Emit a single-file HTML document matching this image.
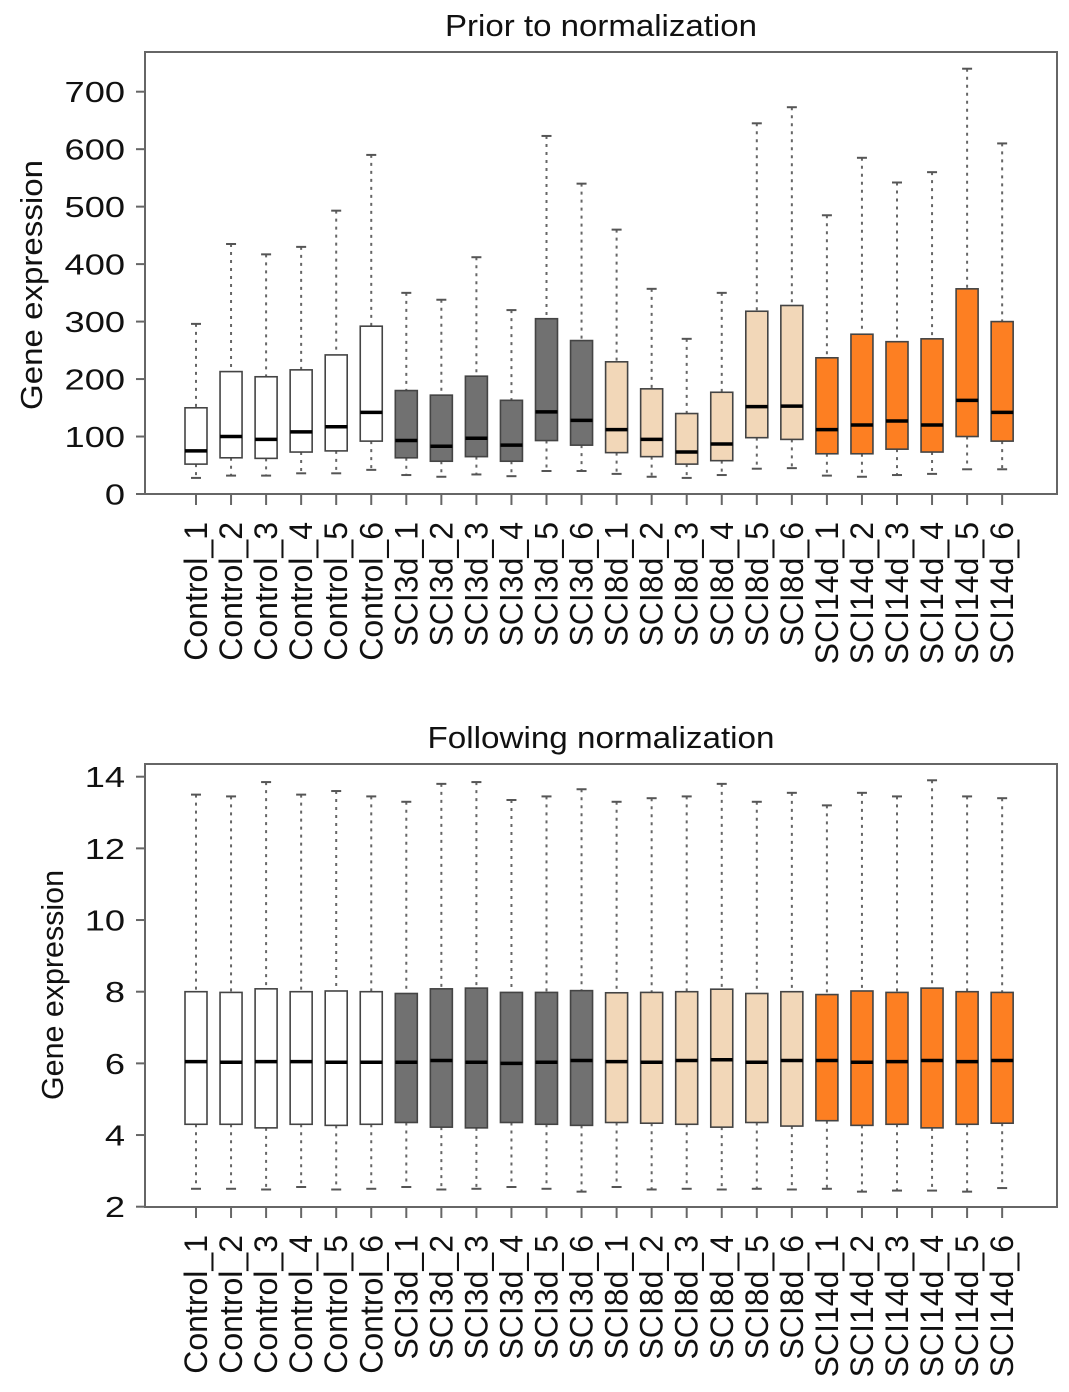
<!DOCTYPE html>
<html><head><meta charset="utf-8"><style>
html,body{margin:0;padding:0;background:#fff;}
svg{display:block;font-family:"Liberation Sans",Arial,sans-serif;}
</style></head><body>
<svg id="chart" width="1069" height="1392" viewBox="0 0 1069 1392" xmlns="http://www.w3.org/2000/svg"></svg>
<script>
const categories=["Control_1","Control_2","Control_3","Control_4","Control_5","Control_6","SCI3d_1","SCI3d_2","SCI3d_3","SCI3d_4","SCI3d_5","SCI3d_6","SCI8d_1","SCI8d_2","SCI8d_3","SCI8d_4","SCI8d_5","SCI8d_6","SCI14d_1","SCI14d_2","SCI14d_3","SCI14d_4","SCI14d_5","SCI14d_6"];
const groupColors=["#ffffff","#ffffff","#ffffff","#ffffff","#ffffff","#ffffff","#717171","#717171","#717171","#717171","#717171","#717171","#f2d7b8","#f2d7b8","#f2d7b8","#f2d7b8","#f2d7b8","#f2d7b8","#fd7f22","#fd7f22","#fd7f22","#fd7f22","#fd7f22","#fd7f22"];
const prevMin=[28,32,32,36,36,42,33,30,34,31,40,40,35,30,28,33,44,45,32,30,33,35,43,43];
const prevQ1=[52,63,62,73,75,92,63,57,65,57,93,85,72,65,52,58,98,95,70,70,78,73,100,92];
const prevMed=[75,100,95,108,117,142,93,83,97,85,143,128,112,95,73,87,152,153,112,120,127,120,163,142];
const prevQ3=[150,213,204,216,242,292,180,172,205,163,305,267,230,183,140,177,318,328,237,278,265,270,357,300];
const prevMax=[296,435,417,430,493,590,350,338,412,320,623,540,460,357,270,350,645,673,485,585,542,560,740,610];
const prevTicks=[0,100,200,300,400,500,600,700];
const postMin=[2.5,2.5,2.48,2.55,2.48,2.5,2.55,2.48,2.5,2.55,2.5,2.42,2.55,2.48,2.5,2.48,2.5,2.48,2.5,2.42,2.45,2.45,2.42,2.52];
const postQ1=[4.3,4.3,4.2,4.3,4.27,4.3,4.35,4.22,4.2,4.35,4.3,4.27,4.35,4.33,4.3,4.22,4.35,4.25,4.4,4.27,4.3,4.2,4.3,4.33];
const postMed=[6.05,6.03,6.05,6.05,6.03,6.03,6.03,6.08,6.03,6.0,6.03,6.08,6.05,6.03,6.08,6.1,6.03,6.08,6.08,6.03,6.05,6.08,6.05,6.08];
const postQ3=[8.0,7.98,8.08,8.0,8.02,8.0,7.95,8.08,8.1,7.98,7.98,8.03,7.97,7.98,8.0,8.07,7.95,8.0,7.92,8.02,7.98,8.1,8.0,7.98];
const postMax=[13.5,13.45,13.85,13.5,13.6,13.45,13.3,13.8,13.85,13.35,13.45,13.65,13.3,13.4,13.45,13.8,13.3,13.55,13.2,13.55,13.45,13.9,13.45,13.4];
const postTicks=[2,4,6,8,10,12,14];

const svg=document.getElementById('chart');
const NS='http://www.w3.org/2000/svg';
function mk(tag,attrs,parent){const e=document.createElementNS(NS,tag);for(const k in attrs)e.setAttribute(k,attrs[k]);(parent||svg).appendChild(e);return e;}

function panel(cfg){
  const g=mk('g',{});
  
  
  const L=145,R=1057,T=cfg.top,B=cfg.bottom;
  const y=v=>cfg.y0px+(v-cfg.v0)*(cfg.y1px-cfg.y0px)/(cfg.v1-cfg.v0);
  const x=i=>196+i*35.05;
  const fr=mk('rect',{x:L,y:T,width:R-L,height:B-T,fill:'none',stroke:'#666','stroke-width':2},g);
  
  
  const tt=mk('text',{x:601,y:T-16,'text-anchor':'middle','font-size':31,fill:'#111',textLength:cfg.titleLen,lengthAdjust:'spacingAndGlyphs'},g);
  tt.textContent=cfg.title;
  
  
  const yt=mk('text',{x:0,y:0,'text-anchor':'middle','font-size':31,fill:'#111',transform:`translate(${cfg.ytx},${cfg.yty}) rotate(-90)`,textLength:cfg.ytLen,lengthAdjust:'spacingAndGlyphs'},g);
  yt.textContent='Gene expression';
  
  
  cfg.ticks.forEach(t=>{
    const yy=y(t);
    const tl=mk('line',{x1:L-9,x2:L,y1:yy,y2:yy,stroke:'#666','stroke-width':2},g);
    
    
    const lb=mk('text',{x:0,y:0,'text-anchor':'end','font-size':29,fill:'#111',transform:`translate(${L-20},${yy+10.5}) scale(1.25,1)`},g);
    lb.textContent=String(t);
    
    
  });
  categories.forEach((c,i)=>{
    const cx=x(i);
    const tk=mk('line',{x1:cx,x2:cx,y1:B,y2:B+11,stroke:'#666','stroke-width':2},g);
    
    
    const lb=mk('text',{x:0,y:0,'text-anchor':'end','font-size':32,fill:'#111',transform:`translate(${cx+11},${B+28}) rotate(-90)`},g);
    lb.textContent=c;
    
    
    const bg=mk('g',{},g);
    
    
    const w=11;
    mk('line',{x1:cx,x2:cx,y1:y(cfg.max[i]),y2:y(cfg.q3[i]),stroke:'#666','stroke-width':2,'stroke-dasharray':'3,5'},bg);
    mk('line',{x1:cx,x2:cx,y1:y(cfg.q1[i]),y2:y(cfg.min[i]),stroke:'#666','stroke-width':2,'stroke-dasharray':'3,5'},bg);
    mk('line',{x1:cx-5,x2:cx+5,y1:y(cfg.max[i]),y2:y(cfg.max[i]),stroke:'#555','stroke-width':2},bg);
    mk('line',{x1:cx-5,x2:cx+5,y1:y(cfg.min[i]),y2:y(cfg.min[i]),stroke:'#555','stroke-width':2},bg);
    mk('rect',{x:cx-w,y:y(cfg.q3[i]),width:2*w,height:y(cfg.q1[i])-y(cfg.q3[i]),fill:groupColors[i],stroke:'#444','stroke-width':1.6},bg);
    mk('line',{x1:cx-w,x2:cx+w,y1:y(cfg.med[i]),y2:y(cfg.med[i]),stroke:'#000','stroke-width':3.5},bg);
  });
}
panel({name:'prior-normalization-panel',title:'Prior to normalization',titleLen:312,ytLen:250,top:52,bottom:494,v0:0,v1:700,y0px:494,y1px:91.7,ticks:prevTicks,min:prevMin,q1:prevQ1,med:prevMed,q3:prevQ3,max:prevMax,ytx:42,yty:285});
panel({name:'following-normalization-panel',title:'Following normalization',titleLen:347,ytLen:230,top:764,bottom:1207,v0:2,v1:14,y0px:1206.7,y1px:776.7,ticks:postTicks,min:postMin,q1:postQ1,med:postMed,q3:postQ3,max:postMax,ytx:63,yty:985});
</script>
</body></html>
